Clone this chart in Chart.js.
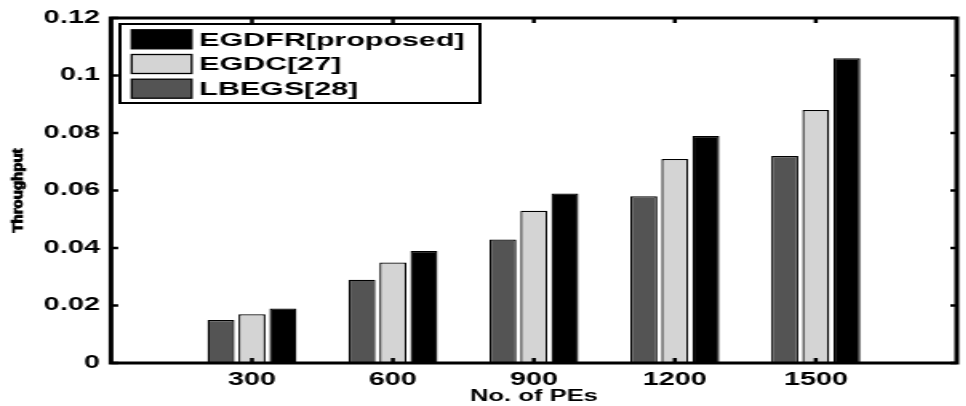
<!DOCTYPE html>
<html>
<head>
<meta charset="utf-8">
<script src="https://cdn.jsdelivr.net/npm/chart.js@4.4.1/dist/chart.umd.min.js"></script>
<style>
  html, body { margin: 0; padding: 0; background: #fff; overflow: hidden; }
  /* the source figure is wide and flat, so the whole chart is stretched sideways */
  #wrap { width: 604px; height: 406px; transform: scaleX(1.6); transform-origin: 0 0; }
</style>
</head>
<body>
<div id="wrap"><canvas id="chart"></canvas></div>
<script>
const categories = ['300', '600', '900', '1200', '1500'];
const lbegs = [0.015, 0.029, 0.043, 0.058, 0.072];
const egdc = [0.017, 0.035, 0.053, 0.071, 0.088];
const egdfr = [0.019, 0.039, 0.059, 0.079, 0.106];
const yTickLabels = ['0', '0.02', '0.04', '0.06', '0.08', '0.1', '0.12'];

const FONT = '"Liberation Sans", Arial, sans-serif';

// empty slot on each side so the groups sit like in the original
function pad(arr, fill) {
    return [fill].concat(arr, [fill]);
}

// box, inward tick marks, y title and boxed legend
const frame = {
    id: 'frame',
    afterDraw(chart) {
        const ctx = chart.ctx;
        const a = chart.chartArea;
        const x = chart.scales.x;
        const y = chart.scales.y;

        ctx.save();
        ctx.strokeStyle = '#000';
        ctx.lineWidth = 2.5;
        ctx.beginPath();
        y.ticks.forEach((t, i) => {
            const py = y.getPixelForTick(i);
            ctx.moveTo(a.left, py); ctx.lineTo(a.left + 4.5, py);
            ctx.moveTo(a.right, py); ctx.lineTo(a.right - 4, py);
        });
        x.ticks.forEach((t, i) => {
            if (!x.getLabelForValue(t.value)) return;
            const px = x.getPixelForTick(i);
            ctx.moveTo(px, a.top); ctx.lineTo(px, a.top + 5);
            ctx.moveTo(px, a.bottom); ctx.lineTo(px, a.bottom - 5);
        });
        ctx.stroke();

        ctx.lineWidth = 3;
        ctx.strokeRect(a.left, a.top, a.right - a.left, a.bottom - a.top);

        // y title, drawn narrow like the source
        ctx.save();
        ctx.translate(11.5, (a.top + a.bottom) / 2);
        ctx.scale(0.56, 1);
        ctx.rotate(-Math.PI / 2);
        ctx.font = 'bold 15px ' + FONT;
        ctx.fillStyle = '#000';
        ctx.strokeStyle = '#000';
        ctx.lineWidth = 1.1;
        ctx.textAlign = 'center';
        ctx.textBaseline = 'middle';
        ctx.fillText('Throughput', 0, 0);
        ctx.strokeText('Throughput', 0, 0);
        ctx.restore();

        // legend box
        const bx = 75, by = 24, bw = 225, bh = 79;
        ctx.fillStyle = '#fff';
        ctx.fillRect(bx, by, bw, bh);
        ctx.lineWidth = 2;
        ctx.strokeRect(bx, by, bw, bh);
        ctx.font = 'bold 19px ' + FONT;
        ctx.textAlign = 'left';
        ctx.textBaseline = 'middle';
        const sets = chart.data.datasets.slice().reverse();
        sets.forEach((ds, i) => {
            const cy = 39.3 + i * 24.7;
            ctx.fillStyle = ds.backgroundColor;
            ctx.fillRect(82.3, cy - 9.5, 37.5, 19);
            ctx.lineWidth = 1.3;
            ctx.strokeRect(82.3, cy - 9.5, 37.5, 19);
            ctx.fillStyle = '#000';
            ctx.fillText(ds.label, 124.6, cy + 1);
        });
        ctx.restore();
    }
};

const ctx = document.getElementById('chart').getContext('2d');
new Chart(ctx, {
    type: 'bar',
    data: {
        labels: pad(categories, ''),
        datasets: [
            {
                label: 'LBEGS[28]',
                data: pad(lbegs, null),
                backgroundColor: '#545454',
                borderColor: '#000',
                borderWidth: 1.3,
                borderSkipped: 'bottom'
            },
            {
                label: 'EGDC[27]',
                data: pad(egdc, null),
                backgroundColor: '#d4d4d4',
                borderColor: '#000',
                borderWidth: 1.3,
                borderSkipped: 'bottom'
            },
            {
                label: 'EGDFR[proposed]',
                data: pad(egdfr, null),
                backgroundColor: '#000000',
                borderColor: '#000',
                borderWidth: 1.3,
                borderSkipped: 'bottom'
            }
        ]
    },
    options: {
        responsive: true,
        maintainAspectRatio: false,
        animation: false,
        events: [],
        categoryPercentage: 0.66,
        barPercentage: 0.87,
        layout: {
            padding: { left: 0, right: 5.25, top: 18, bottom: 0 }
        },
        plugins: {
            legend: { display: false },
            tooltip: { enabled: false }
        },
        scales: {
            x: {
                offset: false,
                grid: { display: false, drawTicks: false },
                border: { display: false },
                ticks: {
                    color: '#000',
                    padding: 6,
                    autoSkip: false,
                    maxRotation: 0,
                    font: { family: FONT, size: 18, weight: 'bold' }
                },
                title: {
                    display: true,
                    text: 'No. of PEs',
                    color: '#000',
                    padding: { top: 0, bottom: 0 },
                    font: { family: FONT, size: 16, weight: 'bold' }
                },
                afterFit(scale) { scale.height = 43; }
            },
            y: {
                min: 0,
                max: 0.12,
                grid: { display: false, drawTicks: false },
                border: { display: false },
                ticks: {
                    stepSize: 0.02,
                    color: '#000',
                    padding: 7,
                    font: { family: FONT, size: 18, weight: 'bold' },
                    callback: (v, i) => yTickLabels[i]
                },
                afterFit(scale) { scale.width = 69.4; }
            }
        }
    },
    plugins: [frame]
});
</script>
</body>
</html>
